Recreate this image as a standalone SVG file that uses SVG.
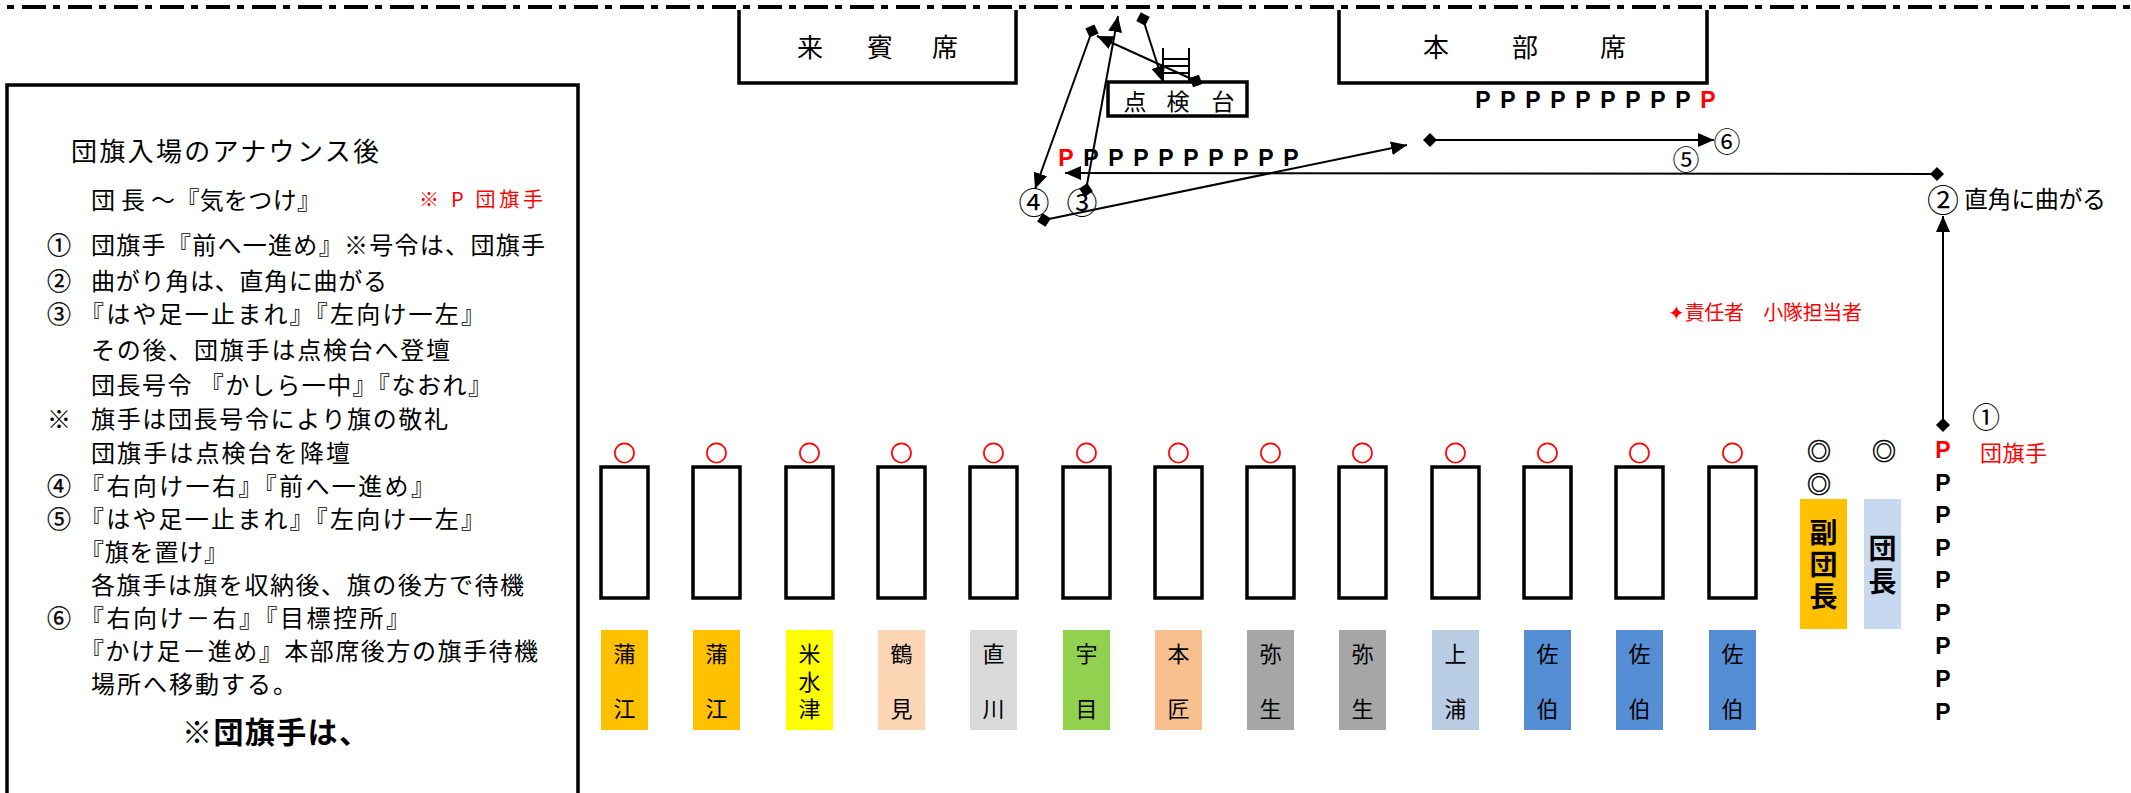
<svg xmlns="http://www.w3.org/2000/svg" width="2131" height="793" viewBox="0 0 2131 793">
<style>
text { dominant-baseline: central; }
.jp { font-family: "Noto Sans CJK JP", "Noto Sans CJK SC", sans-serif; fill: #000; }
.p { font-family: "Liberation Sans", Arial, sans-serif; font-weight: bold; font-size: 23px; fill: #000; }
.red { fill: #ff0000; }
.box { fill: none; stroke: #000; stroke-width: 3.5; }
.col { fill: #fff; stroke: #000; stroke-width: 3.5; }
.thin { stroke: #000; stroke-width: 2; fill: none; }
.conn line { stroke: #000; stroke-width: 2; marker-start: url(#dia); marker-end: url(#arr); }
.body { font-size: 24px; }
.num { font-size: 24px; text-anchor: middle; stroke: #000; stroke-width: 0.3; }
.ring { font-size: 22px; fill: #ff0000; stroke: #ff0000; stroke-width: 0.8; text-anchor: middle; }
.dring { font-size: 24px; text-anchor: middle; stroke: #000; stroke-width: 0.5; }
.lab { font-size: 22px; text-anchor: middle; }
.big { font-size: 28px; font-weight: bold; text-anchor: middle; }
.seat { font-size: 26px; text-anchor: middle; }
</style>
<defs>
<marker id="arr" viewBox="0 0 16 14" refX="16" refY="7" markerWidth="16" markerHeight="14" orient="auto" markerUnits="userSpaceOnUse"><path d="M0,0 L16,7 L0,14 z" fill="#000"/></marker>
<marker id="dia" viewBox="0 0 14 14" refX="7" refY="7" markerWidth="14" markerHeight="14" orient="auto" markerUnits="userSpaceOnUse"><path d="M0,7 L7,0 L14,7 L7,14 z" fill="#000"/></marker>
</defs>
<rect width="2131" height="793" fill="#fff"/>

<g id="boundary">
<line x1="7" y1="7" x2="2131" y2="7" stroke="#000" stroke-width="4" stroke-dasharray="7 8 24 7"/>
</g>

<g id="panel">
<path class="box" d="M7,793 V85 H578 V793"/>
<text class="jp" x="71" y="149" font-size="26" textLength="308" lengthAdjust="spacing">団旗入場のアナウンス後</text>
<text class="jp body" x="91" y="198" textLength="230" lengthAdjust="spacing">団 長 ～『気をつけ』</text>
<text class="jp red" x="419" y="198" font-size="20" textLength="124" lengthAdjust="spacing">※ P 団旗手</text>
<text class="jp num" x="59" y="243">①</text>
<text class="jp body" x="91" y="243" textLength="454" lengthAdjust="spacing">団旗手『前へ一進め』※号令は、団旗手</text>
<text class="jp num" x="59" y="279">②</text>
<text class="jp body" x="91" y="279" textLength="296" lengthAdjust="spacing">曲がり角は、直角に曲がる</text>
<text class="jp num" x="59" y="312">③</text>
<text class="jp body" x="80" y="312" textLength="405" lengthAdjust="spacing">『はや足一止まれ』『左向け一左』</text>
<text class="jp body" x="91" y="348" textLength="359" lengthAdjust="spacing">その後、団旗手は点検台へ登壇</text>
<text class="jp body" x="91" y="383" textLength="401" lengthAdjust="spacing">団長号令 『かしら一中』『なおれ』</text>
<text class="jp body" x="59" y="417" text-anchor="middle">※</text>
<text class="jp body" x="91" y="417" textLength="357" lengthAdjust="spacing">旗手は団長号令により旗の敬礼</text>
<text class="jp body" x="91" y="451" textLength="259" lengthAdjust="spacing">団旗手は点検台を降壇</text>
<text class="jp num" x="59" y="484">④</text>
<text class="jp body" x="80" y="484" textLength="355" lengthAdjust="spacing">『右向け一右』『前へ一進め』</text>
<text class="jp num" x="59" y="517">⑤</text>
<text class="jp body" x="80" y="517" textLength="405" lengthAdjust="spacing">『はや足一止まれ』『左向け一左』</text>
<text class="jp body" x="80" y="550" textLength="148" lengthAdjust="spacing">『旗を置け』</text>
<text class="jp body" x="91" y="583" textLength="433" lengthAdjust="spacing">各旗手は旗を収納後、旗の後方で待機</text>
<text class="jp num" x="59" y="616">⑥</text>
<text class="jp body" x="80" y="616" textLength="330" lengthAdjust="spacing">『右向け－右』『目標控所』</text>
<text class="jp body" x="80" y="649" textLength="458" lengthAdjust="spacing">『かけ足－進め』本部席後方の旗手待機</text>
<text class="jp body" x="91" y="682" textLength="206" lengthAdjust="spacing">場所へ移動する。</text>
<text class="jp" x="182" y="730" font-size="30" font-weight="bold" textLength="187" lengthAdjust="spacing">※団旗手は、</text>
</g>

<g id="raihin">
<path class="box" d="M739,10 V83 H1016 V10"/>
<text class="jp seat" x="810 880 945" y="45">来賓席</text>
</g>

<g id="honbu">
<path class="box" d="M1339,10 V83 H1707 V10"/>
<text class="jp seat" x="1436 1525 1613" y="45">本部席</text>
</g>

<g id="tenkendai">
<rect class="box" x="1108" y="82" width="139" height="34"/>
<text class="jp" font-size="23" text-anchor="middle" x="1135 1178 1223" y="100">点検台</text>
<g class="thin">
<line x1="1163" y1="48" x2="1163" y2="82"/>
<line x1="1189" y1="48" x2="1189" y2="82"/>
<line x1="1163" y1="59" x2="1189" y2="59"/>
<line x1="1163" y1="66" x2="1189" y2="66"/>
<line x1="1163" y1="73" x2="1189" y2="73"/>
</g>
</g>

<g id="p-row-top">
<text class="p" text-anchor="middle" x="1483 1508 1533 1558 1583 1608 1633 1658 1683 1708" y="100">PPPPPPPPP<tspan class="red">P</tspan></text>
</g>

<g id="p-row-mid">
<text class="p" text-anchor="middle" x="1066 1091 1116 1141 1166 1191 1216 1241 1266 1291" y="158"><tspan class="red">P</tspan>PPPPPPPPP</text>
</g>

<g id="p-column">
<text class="p" font-size="23" text-anchor="middle" x="1943 1943 1943 1943 1943 1943 1943 1943 1943" y="450 483 515 548 580 613 646 679 712"><tspan class="red">P</tspan>PPPPPPPP</text>
<text class="jp red" x="1980" y="451" font-size="22" textLength="67" lengthAdjust="spacing">団旗手</text>
</g>

<g id="marks">
<text class="jp" font-size="28" text-anchor="middle" x="1986" y="416">①</text>
<text class="jp" font-size="32" text-anchor="middle" x="1943" y="198">②</text>
<text class="jp" x="1964" y="197" font-size="24" textLength="142" lengthAdjust="spacing">直角に曲がる</text>
<text class="jp" font-size="31" text-anchor="middle" x="1082" y="200">③</text>
<text class="jp" font-size="31" text-anchor="middle" x="1034" y="200">④</text>
<text class="jp" font-size="27" text-anchor="middle" x="1686" y="158">⑤</text>
<text class="jp" font-size="27" text-anchor="middle" x="1727" y="140">⑥</text>
<text class="jp red" x="1668" y="311" font-size="20" textLength="194" lengthAdjust="spacing">✦責任者　小隊担当者</text>
</g>

<g id="col1"><text class="jp ring" x="624.5" y="451">○</text><rect class="col" x="601" y="467" width="47" height="131"/><rect x="601" y="630" width="47" height="100" fill="#FFC000"/><text class="jp lab" x="624.5 624.5" y="652 707">蒲江</text></g>
<g id="col2"><text class="jp ring" x="716.5" y="451">○</text><rect class="col" x="693" y="467" width="47" height="131"/><rect x="693" y="630" width="47" height="100" fill="#FFC000"/><text class="jp lab" x="716.5 716.5" y="652 707">蒲江</text></g>
<g id="col3"><text class="jp ring" x="809.5" y="451">○</text><rect class="col" x="786" y="467" width="47" height="131"/><rect x="786" y="630" width="47" height="100" fill="#FFFF00"/><text class="jp lab" x="809.5 809.5 809.5" y="652 680 707">米水津</text></g>
<g id="col4"><text class="jp ring" x="901.5" y="451">○</text><rect class="col" x="878" y="467" width="47" height="131"/><rect x="878" y="630" width="47" height="100" fill="#FCD5B4"/><text class="jp lab" x="901.5 901.5" y="652 707">鶴見</text></g>
<g id="col5"><text class="jp ring" x="993.5" y="451">○</text><rect class="col" x="970" y="467" width="47" height="131"/><rect x="970" y="630" width="47" height="100" fill="#D9D9D9"/><text class="jp lab" x="993.5 993.5" y="652 707">直川</text></g>
<g id="col6"><text class="jp ring" x="1086.5" y="451">○</text><rect class="col" x="1063" y="467" width="47" height="131"/><rect x="1063" y="630" width="47" height="100" fill="#92D050"/><text class="jp lab" x="1086.5 1086.5" y="652 707">宇目</text></g>
<g id="col7"><text class="jp ring" x="1178.5" y="451">○</text><rect class="col" x="1155" y="467" width="47" height="131"/><rect x="1155" y="630" width="47" height="100" fill="#F8BF8F"/><text class="jp lab" x="1178.5 1178.5" y="652 707">本匠</text></g>
<g id="col8"><text class="jp ring" x="1270.5" y="451">○</text><rect class="col" x="1247" y="467" width="47" height="131"/><rect x="1247" y="630" width="47" height="100" fill="#A6A6A6"/><text class="jp lab" x="1270.5 1270.5" y="652 707">弥生</text></g>
<g id="col9"><text class="jp ring" x="1362.5" y="451">○</text><rect class="col" x="1339" y="467" width="47" height="131"/><rect x="1339" y="630" width="47" height="100" fill="#A6A6A6"/><text class="jp lab" x="1362.5 1362.5" y="652 707">弥生</text></g>
<g id="col10"><text class="jp ring" x="1455.5" y="451">○</text><rect class="col" x="1432" y="467" width="47" height="131"/><rect x="1432" y="630" width="47" height="100" fill="#B8CCE4"/><text class="jp lab" x="1455.5 1455.5" y="652 707">上浦</text></g>
<g id="col11"><text class="jp ring" x="1547.5" y="451">○</text><rect class="col" x="1524" y="467" width="47" height="131"/><rect x="1524" y="630" width="47" height="100" fill="#558ED5"/><text class="jp lab" x="1547.5 1547.5" y="652 707">佐伯</text></g>
<g id="col12"><text class="jp ring" x="1639.5" y="451">○</text><rect class="col" x="1616" y="467" width="47" height="131"/><rect x="1616" y="630" width="47" height="100" fill="#558ED5"/><text class="jp lab" x="1639.5 1639.5" y="652 707">佐伯</text></g>
<g id="col13"><text class="jp ring" x="1732.5" y="451">○</text><rect class="col" x="1709" y="467" width="47" height="131"/><rect x="1709" y="630" width="47" height="100" fill="#558ED5"/><text class="jp lab" x="1732.5 1732.5" y="652 707">佐伯</text></g>

<g id="fukudancho">
<text class="jp dring" x="1819" y="449">◎</text>
<text class="jp dring" x="1819" y="482">◎</text>
<rect x="1800" y="499" width="47" height="130" fill="#FFC000"/>
<text class="jp big" x="1823.5 1823.5 1823.5" y="531 563 595">副団長</text>
</g>

<g id="dancho">
<text class="jp dring" x="1884" y="449">◎</text>
<rect x="1864" y="499" width="37" height="130" fill="#C6D9F1"/>
<text class="jp big" x="1882.5 1882.5" y="547 580">団長</text>
</g>

<g id="connectors" class="conn">
<line x1="1943" y1="425" x2="1943" y2="216"/>
<line x1="1937" y1="174" x2="1065" y2="173"/>
<line x1="1086" y1="190" x2="1118" y2="16"/>
<line x1="1143" y1="19" x2="1163" y2="82"/>
<line x1="1196" y1="81" x2="1097" y2="36"/>
<line x1="1092" y1="31" x2="1035" y2="189"/>
<line x1="1044" y1="220" x2="1407" y2="145"/>
<line x1="1430" y1="140" x2="1714" y2="140"/>
</g>
</svg>
